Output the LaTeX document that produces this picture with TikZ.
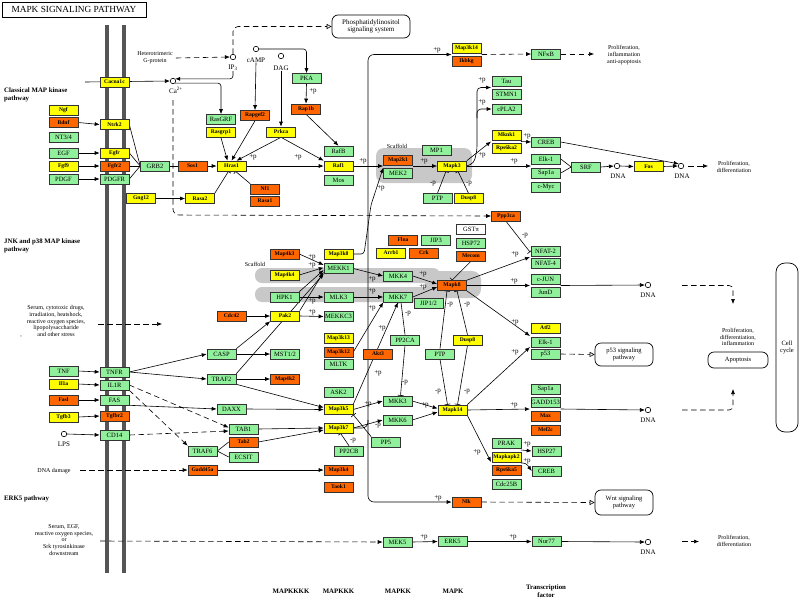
\documentclass[tikz,border=0pt]{standalone}
\usepackage{fontspec}
\setmainfont{Liberation Serif}
\usetikzlibrary{arrows.meta}
\pgfdeclarelayer{back}
\pgfdeclarelayer{bg}
\pgfsetlayers{back,bg,main}
\definecolor{kgreen}{RGB}{145,240,155}
\definecolor{korange}{RGB}{255,102,0}
\definecolor{kyellow}{RGB}{255,255,0}
\definecolor{kgray}{RGB}{200,200,200}
\definecolor{kmem}{RGB}{85,85,85}
\newcommand\plab[3]{\node[lbl] (#1) at (#2) {#3};}
\tikzset{
 box/.style={draw=black!80, line width=0.6pt, minimum width=29pt, minimum height=10pt, inner sep=0pt},
 gbox/.style={box, fill=kgreen, font=\fontsize{6.5}{6.5}\selectfont},
 ybox/.style={box, fill=kyellow, font=\fontsize{5.6}{5.6}\selectfont\bfseries},
 obox/.style={box, fill=korange, font=\fontsize{5.6}{5.6}\selectfont\bfseries},
 wbox/.style={box, fill=white, font=\fontsize{6.5}{6.5}\selectfont},
 circ/.style={circle, draw, line width=0.6pt, inner sep=0pt, minimum size=5.5pt},
 lbl/.style={font=\fontsize{7}{7}\selectfont, inner sep=0pt},
 txt/.style={font=\fontsize{6}{6.8}\selectfont, align=center, inner sep=0pt},
 btxt/.style={font=\fontsize{6.8}{7.4}\selectfont\bfseries, align=left, inner sep=0pt, anchor=north west},
 axl/.style={font=\fontsize{6.8}{7}\selectfont\bfseries, align=center, inner sep=0pt},
 rbox/.style={draw, line width=0.7pt, rounded corners=6pt, align=center, font=\fontsize{6.5}{7}\selectfont, inner sep=0pt},
 con/.style={line width=0.6pt, draw=black},
 arr/.style={con, -{Latex[length=5pt,width=4pt]}},
 inh/.style={con, -{Bar[width=6pt]}},
 darr/.style={arr, dash pattern=on 5.5pt off 3.5pt},
 dopen/.style={con, dash pattern=on 5.5pt off 3.5pt, -{Triangle[open,length=5pt,width=5pt]}},
}
\begin{document}
\begin{tikzpicture}[x=1pt,y=-1pt]
\useasboundingbox (0,0) rectangle (800,600);
\begin{pgfonlayer}{back}
\fill[white] (0,0) rectangle (800,600);
\draw[line width=3.5pt, kmem] (107,25) -- (107,573);
\draw[line width=3.5pt, kmem] (124,25) -- (124,573);
\fill[kgray, rounded corners=8pt] (376,148) rectangle (472,183);
\fill[kgray, rounded corners=7pt] (255,268) rectangle (440,283);
\fill[kgray, rounded corners=7pt] (255,287) rectangle (440,302);
\fill[kgray, rounded corners=9pt] (425,271) rectangle (481,298);
\end{pgfonlayer}

% title and text
\node[draw, line width=1pt, minimum width=144pt, minimum height=15pt, inner sep=0pt, font=\fontsize{9.3}{9.3}\selectfont] (title) at (74,9.5) {MAPK SIGNALING PATHWAY};
\node[btxt] (classic) at (4,88) {Classical MAP kinase\\pathway};
\node[btxt] (jnkp) at (4,239) {JNK and p38 MAP kinase\\pathway};
\node[btxt] (erk5p) at (4,496) {ERK5 pathway};
\node[txt] (gprot) at (155,58) {Heterotrimeric\\G-protein};
\node[txt] (stress) at (56,321) {Serum, cytotoxic drugs,\\irradiation, heatshock,\\reactive oxygen species,\\lipopolysaccharide\\and other stress};
\node[txt] (comma) at (21,337) {,};
\node[txt] (dnad) at (54,471) {DNA damage};
\node[txt] (serum2) at (64,540) {Serum, EGF,\\reactive oxygen species,\\or\\Srk tyrosinkinase\\downstream};
\node[txt] (prol1) at (624,55) {Proliferation,\\inflammation\\anti-apoptosis};
\node[txt] (prol2) at (734,167) {Proliferation,\\differentiation};
\node[txt] (prol3) at (738,337) {Proliferation,\\differentiation,\\inflammation};
\node[txt] (prol5) at (734,541) {Proliferation,\\differentiation};
\node[txt] (scaf1) at (397,146) {Scaffold};
\node[txt] (scaf2) at (255,264) {Scaffold};
\node[axl] (ax1) at (291,591) {MAPKKKK};
\node[axl] (ax2) at (338.5,591) {MAPKKK};
\node[axl] (ax3) at (398,591) {MAPKK};
\node[axl] (ax4) at (453,591) {MAPK};
\node[axl, font=\fontsize{6.8}{7.5}\selectfont\bfseries] (ax5) at (546,591) {Transcription\\factor};

% rounded boxes
\node[rbox, minimum width=78pt, minimum height=23pt, font=\fontsize{7}{7.5}\selectfont] (pis) at (371,26.5) {Phosphatidylinositol\\signaling system};
\node[rbox, minimum width=58pt, minimum height=23pt] (p53path) at (624,354.5) {p53 signaling\\pathway};
\node[rbox, minimum width=58pt, minimum height=25pt] (wnt) at (624,502.5) {Wnt signaling\\pathway};
\node[rbox, minimum width=60pt, minimum height=16pt] (apop) at (738,360) {Apoptosis};
\node[rbox, minimum width=22pt, minimum height=169pt, rounded corners=9pt] (cellc) at (787,347.5) {Cell\\cycle};

% small molecules
\node[circ] (ca) at (173,81) {};
\node[lbl] (calbl) at (176,90) {Ca\textsuperscript{2+}};
\node[circ] (ip3) at (233,57) {};
\node[lbl] (ip3lbl) at (233,68) {IP\textsubscript{3}};
\node[circ] (camp) at (256,49) {};
\node[lbl] (camplbl) at (256,60) {cAMP};
\node[circ] (dag) at (281,56) {};
\node[lbl] (daglbl) at (281,68) {DAG};
\node[circ] (dna1) at (617,166) {};
\node[lbl] (dna1l) at (618,176) {DNA};
\node[circ] (dna2) at (681,166) {};
\node[lbl] (dna2l) at (682,176) {DNA};
\node[circ] (dna3) at (648,285) {};
\node[lbl] (dna3l) at (648,295) {DNA};
\node[circ] (dna4) at (648,410) {};
\node[lbl] (dna4l) at (648,420) {DNA};
\node[circ] (dna5) at (648,542) {};
\node[lbl] (dna5l) at (648,552) {DNA};
\node[circ] (lps) at (64,434) {};
\node[lbl] (lpsl) at (64,444) {LPS};

% classical
\node[ybox] (cacna) at (114.5,82) {Cacna1c};
\node[ybox] (ngf) at (63.5,110.5) {Ngf};
\node[obox] (bdnf) at (63.5,122.5) {Bdnf};
\node[gbox] (nt34) at (63.5,137) {NT3/4};
\node[gbox] (egf) at (63.5,153) {EGF};
\node[ybox] (fgf9) at (63.5,166) {Fgf9};
\node[gbox] (pdgf) at (63.5,179) {PDGF};
\node[ybox] (ntrk) at (114.5,124.5) {Ntrk2};
\node[ybox] (egfr) at (114.5,153) {Egfr};
\node[obox] (fgfr) at (114.5,166) {Fgfr2};
\node[gbox] (pdgfr) at (114.5,179) {PDGFR};
\node[gbox] (grb2) at (155,166) {GRB2};
\node[obox] (sos) at (192.5,166) {Sos1};
\node[ybox] (hras) at (231.5,166) {Hras1};
\node[ybox] (gng) at (141,198.5) {Gng12};
\node[ybox] (rasa2) at (200,198.5) {Rasa2};
\node[obox] (nf1) at (265,189) {Nf1};
\node[obox] (rasa1) at (265,201) {Rasa1};
\node[gbox] (rasgrf) at (221,119.5) {RasGRF};
\node[ybox] (rasgrp) at (221,132.5) {Rasgrp1};
\node[obox] (rapgef) at (255,115.5) {Rapgef2};
\node[ybox] (prkca) at (281,132) {Prkca};
\node[gbox] (pka) at (306.5,78.5) {PKA};
\node[obox] (rap1b) at (306,109) {Rap1b};
\node[gbox] (rafb) at (338.5,151) {RafB};
\node[ybox] (raf1) at (338.5,166) {Raf1};
\node[gbox] (mos) at (338.5,180.5) {Mos};
\node[obox] (map2k1) at (398,160) {Map2k1};
\node[gbox] (mek2) at (398,173) {MEK2};
\node[gbox] (mp1) at (436.5,150) {MP1};
\node[ybox] (mapk3) at (452,166) {Mapk3};
\node[gbox] (ptp1) at (437.5,198.5) {PTP};
\node[ybox] (dusp1) at (468.5,198.5) {Dusp8};
\node[gbox] (tau) at (506.5,81) {Tau};
\node[gbox] (stmn) at (506.5,94) {STMN1};
\node[gbox] (cpla) at (506.5,109) {cPLA2};
\node[ybox] (mknk) at (506.5,135) {Mknk1};
\node[ybox] (rps2) at (506.5,148) {Rps6ka2};
\node[gbox] (creb1) at (546,142) {CREB};
\node[gbox] (elk1) at (546,159) {Elk-1};
\node[gbox] (sap1) at (546,173) {Sap1a};
\node[gbox] (cmyc) at (546,187) {c-Myc};
\node[gbox] (srf) at (586,167) {SRF};
\node[ybox] (fos) at (648.5,166.5) {Fos};
\node[ybox] (map3k14) at (466.5,48) {Map3k14};
\node[obox] (ikbkg) at (466.5,61.5) {Ikbkg};
\node[gbox] (nfkb) at (546,54) {NFκB};

% JNK
\node[obox] (ppp3ca) at (506,216) {Ppp3ca};
\node[obox] (map4k3) at (284.5,254) {Map4k3};
\node[ybox] (map4k4) at (284.5,275) {Map4k4};
\node[gbox] (hpk1) at (284.5,297) {HPK1};
\node[ybox] (map3k8) at (338.5,254) {Map3k8};
\node[gbox] (mekk1) at (338.5,268.5) {MEKK1};
\node[gbox] (mlk3) at (338.5,297) {MLK3};
\node[gbox] (mekkc3) at (338.5,316.5) {MEKKC3};
\node[obox] (cdc42) at (231.5,316) {Cdc42};
\node[ybox] (pak) at (285,316) {Pak2};
\node[gbox] (casp) at (221.5,354) {CASP};
\node[gbox] (mst) at (285,354) {MST1/2};
\node[gbox] (traf2) at (221.5,379) {TRAF2};
\node[obox] (map4k2) at (285,379) {Map4k2};
\node[ybox] (map3k13) at (338.5,338) {Map3k13};
\node[obox] (map3k12) at (338.5,352) {Map3k12};
\node[gbox] (mltk) at (338.5,364) {MLTK};
\node[gbox] (ask2) at (338.5,392) {ASK2};
\node[obox] (akt3) at (378,354) {Akt3};
\node[obox] (flna) at (403,240) {Flna};
\node[ybox] (arrb) at (391,253) {Arrb1};
\node[obox] (crk) at (424,253) {Crk};
\node[gbox] (jip3) at (436,240) {JIP3};
\node[wbox] (gst) at (471,229) {GSTπ};
\node[gbox] (hsp72) at (471,243) {HSP72};
\node[obox] (mecom) at (471,256) {Mecom};
\node[gbox] (mkk4) at (398,276) {MKK4};
\node[gbox] (mkk7) at (398,297) {MKK7};
\node[obox] (mapk8) at (452,285.5) {Mapk8};
\node[gbox] (jip12) at (428.5,303) {JIP1/2};
\node[gbox] (nfat2) at (545.5,251) {NFAT-2};
\node[gbox] (nfat4) at (545.5,263) {NFAT-4};
\node[gbox] (cjun) at (545.5,279) {c-JUN};
\node[gbox] (jund) at (545.5,292) {JunD};
\node[ybox] (atf2) at (545.5,328) {Atf2};
\node[gbox] (elk2) at (545.5,342) {Elk-1};
\node[gbox] (p53) at (545.5,354) {p53};
\node[gbox] (pp2ca) at (405,340) {PP2CA};
\node[gbox] (ptp2) at (440,354) {PTP};
\node[ybox] (dusp2) at (467.5,340) {Dusp8};

% p38
\node[gbox] (tnf) at (63.5,371) {TNF};
\node[ybox] (il1a) at (63.5,384) {Il1a};
\node[obox] (fasl) at (63.5,400) {Fasl};
\node[ybox] (tgfb3) at (63.5,417) {Tgfb3};
\node[gbox] (tnfr) at (114.5,372) {TNFR};
\node[gbox] (il1r) at (114.5,385) {IL1R};
\node[gbox] (fas) at (114.5,400) {FAS};
\node[obox] (tgfbr) at (114.5,416) {Tgfbr2};
\node[gbox] (cd14) at (114.5,435) {CD14};
\node[gbox] (daxx) at (231.5,409) {DAXX};
\node[gbox] (tab1) at (243.5,429) {TAB1};
\node[gbox] (traf6) at (202.5,451) {TRAF6};
\node[obox] (tab2) at (243.5,442) {Tab2};
\node[gbox] (ecsit) at (243.5,457) {ECSIT};
\node[obox] (gadd) at (202.5,470) {Gadd45a};
\node[ybox] (map3k5) at (338.5,409.5) {Map3k5};
\node[ybox] (map3k7) at (338.5,428) {Map3k7};
\node[gbox] (pp2cb) at (349,451) {PP2CB};
\node[obox] (map3k4) at (338.5,470) {Map3k4};
\node[obox] (taok1) at (338.5,487) {Taok1};
\node[gbox] (pp5) at (386,442) {PP5};
\node[gbox] (mkk3) at (397.5,401) {MKK3};
\node[gbox] (mkk6) at (397.5,420) {MKK6};
\node[ybox] (mapk14) at (452.5,410) {Mapk14};
\node[gbox] (sap2) at (545.5,389) {Sap1a};
\node[gbox] (gadd153) at (545.5,402) {GADD153};
\node[obox] (max) at (545.5,416) {Max};
\node[obox] (mef2c) at (545.5,430) {Mef2c};
\node[gbox] (prak) at (506.5,443) {PRAK};
\node[ybox] (mapkapk) at (506.5,457) {Mapkapk2};
\node[obox] (rps5) at (506.5,470) {Rps6ka5};
\node[gbox] (cdc25) at (506.5,484) {Cdc25B};
\node[gbox] (hsp27) at (546.5,451) {HSP27};
\node[gbox] (creb2) at (546.5,471) {CREB};
\node[obox] (nlk) at (466.5,502) {Nlk};
\node[gbox] (mek5) at (397.5,542) {MEK5};
\node[gbox] (erk5) at (452.5,541.5) {ERK5};
\node[gbox] (nur77) at (546.5,541.5) {Nur77};

% +p / -p labels
\plab{l1}{313,91}{+p}
\plab{l2}{253,157}{+p}
\plab{l3}{298,157}{+p}
\plab{l4}{363,161}{+p}
\plab{l5}{381,188}{+p}
\plab{l6}{424,161}{+p}
\plab{l7}{433,184}{-p}
\plab{l8}{469,184}{-p}
\plab{l9}{482,80}{+p}
\plab{l10}{482,102}{+p}
\plab{l11}{482,155}{+p}
\plab{l12}{527,136}{+p}
\plab{l13}{514,161}{+p}
\plab{l14}{437,50}{+p}
\plab{l15}{312,257}{+p}
\plab{l16}{312,265}{+p}
\plab{l17}{312,301}{+p}
\plab{l18}{312,312}{+p}
\plab{l19}{372,279}{+p}
\plab{l20}{372,291}{+p}
\plab{l21}{372,308}{+p}
\plab{l22}{382,328}{+p}
\plab{l23}{378,373}{+p}
\plab{l24}{423,274}{+p}
\plab{l25}{423,287}{+p}
\plab{l26}{525,236}{-p}
\plab{l27}{515,254}{+p}
\plab{l28}{514,281}{+p}
\plab{l29}{515,322}{+p}
\plab{l30}{515,352}{+p}
\plab{l31}{450,305}{-p}
\plab{l32}{467,305}{-p}
\plab{l33}{438,392}{-p}
\plab{l34}{467,392}{-p}
\plab{l35}{408,314}{-p}
\plab{l36}{405,383}{-p}
\plab{l37}{368,404}{+p}
\plab{l38}{378,426}{-p}
\plab{l39}{353,441}{-p}
\plab{l40}{425,405}{+p}
\plab{l41}{514,405}{+p}
\plab{l42}{477,452}{+p}
\plab{l43}{527,444}{+p}
\plab{l44}{527,461}{+p}
\plab{l45}{438,498}{+p}
\plab{l46}{424,537}{+p}
\plab{l47}{513,537}{+p}

% free ends
\coordinate (cain) at (85,82);
\coordinate (stressa) at (98,324);
\coordinate (stressb) at (162,324);
\coordinate (dnada) at (80,470);
\coordinate (s2out) at (100,541);
\coordinate (cadash) at (173,100);
\coordinate (tauin) at (491,87.5);
\coordinate (mkin) at (491,141.5);
\coordinate (mkout) at (521,141.5);
\coordinate (elkin) at (531,166);
\coordinate (dna2out) at (708,166);
\coordinate (nikin) at (451.5,54.5);
\coordinate (ikout) at (481.5,54.5);
\coordinate (nfkbout) at (594,54);
\coordinate (nfatin) at (530,257);
\coordinate (nfatbar) at (530,252);
\coordinate (cjunin) at (530,285.5);
\coordinate (jundout) at (560.5,285.5);
\coordinate (atfin) at (530,336);
\coordinate (atfin2) at (530,347);
\coordinate (sapin) at (530,409);
\coordinate (gaddout) at (560.5,409);
\coordinate (prakin) at (491,462);
\coordinate (hspout) at (521,450);
\coordinate (crebout) at (521,463);
\coordinate (dna3out) at (682,285.5);
\coordinate (prol3in) at (733,304);
\coordinate (dna4out) at (682,410);
\coordinate (apopin) at (733,389);
\coordinate (dna5out) at (682,541.5);
\coordinate (prol5in) at (699,541.5);

\begin{pgfonlayer}{bg}
% top
\draw[arr] (cain) -- (ca.west);
\draw[arr, rounded corners=3pt] (ip3lbl.south) |- (ca.north east);
\draw[arr, rounded corners=3pt] (ca.south east) -| (rasgrf.north);
\draw[darr] ([xshift=3pt]gprot.east) -- (ip3.west);
\draw[dopen, rounded corners=5pt] (ip3.north) |- (pis.west);
\draw[arr, rounded corners=3pt] (camp.east) -| (pka.north);
\draw[arr] (camplbl.south) -- (rapgef.north);
\draw[arr] (daglbl.south) -- (prkca.north);
\draw[arr] (pka.south) -- (rap1b.north);
\draw[arr] (rap1b.south) -- (rafb.north);
\draw[arr] (rasgrp.south) -- ([xshift=-4pt]hras.north);
\draw[arr] (rapgef.south) -- (hras.north);
\draw[arr] (prkca.south) -- ([xshift=5pt]hras.north);
\draw[arr] (prkca.south) -- (raf1.north west);
\draw[arr] (bdnf.east) -- (ntrk.west);
\draw[arr] (egf.east) -- (egfr.west);
\draw[arr] (fgf9.east) -- (fgfr.west);
\draw[arr] (pdgf.east) -- (pdgfr.west);
\draw[con] (ntrk.east) -- (grb2.west);
\draw[con] (egfr.east) -- (grb2.west);
\draw[con] (fgfr.east) -- (grb2.west);
\draw[con] (pdgfr.east) -- (grb2.west);
\draw[con] (grb2.east) -- (sos.west);
\draw[arr] (sos.east) -- (hras.west);
\draw[arr] (hras.east) -- (raf1.west);
\draw[inh] (nf1.north west) -- ([xshift=4pt]hras.south);
\draw[inh] (rasa2.north east) -- ([xshift=-3pt]hras.south);
\draw[arr] (gng.east) -- (rasa2.west);
\draw[darr, rounded corners=6pt] (cadash) -- (173,215) -- (ppp3ca.west);
\draw[arr] (raf1.east) -- (raf1.east -| map2k1.west);
\draw[arr, rounded corners=3pt] (map3k8.east) -- (364,254) -- (371,205) -- (mek2.north west);
\draw[arr] (map2k1.east |- mapk3.west) -- (mapk3.west);
\draw[inh] (ptp1.north) -- ([xshift=-6pt]mapk3.south);
\draw[inh] (dusp1.north) -- ([xshift=6pt]mapk3.south);
\draw[arr, rounded corners=4pt] (mapk3.east) -- (474,163) -- (477,150) -- (477,87.5) -- (tauin);
\draw[arr, rounded corners=4pt] (477,118) -- (477,109) -- (cpla.west);
\draw[arr] (mapk3.north east) -- (mkin);
\draw[arr] (mkout) -- (creb1.west);
\draw[arr] (mapk3.east) -- (elkin);
\draw[con] (elk1.east) -- (srf.west);
\draw[con] (sap1.east) -- (srf.west);
\draw[arr] (srf.east) -- (dna1.west);
\draw[arr] (dna1.east) -- (fos.west);
\draw[arr] (fos.east) -- (dna2.west);
\draw[arr] (creb1.east) -- (dna2.north west);
\draw[darr] ([xshift=4pt]dna2.east) -- (dna2out);
\draw[arr, rounded corners=6pt] (map3k7.east) -- (368,428) -- (368,54.5) -- (nikin);
\draw[arr, rounded corners=6pt] (368,420) -- (368,502) -- (nlk.west);
\draw[darr] (ikout) -- (nfkb.west);
\draw[darr] (nfkb.east) -- (nfkbout);
% JNK
\draw[darr] (stressa) -- (stressb);
\draw[arr] (map4k3.east) -- ([yshift=3.5pt]mekk1.west);
\draw[arr] (map4k4.east) -- ([yshift=1pt]mekk1.west);
\draw[arr] (hpk1.north east) -- ([yshift=-1.5pt]mekk1.west);
\draw[arr] (pak.north east) -- ([yshift=-3.5pt]mekk1.west);
\draw[arr] (traf2.north east) -- (mekk1.south west);
\draw[arr] (hpk1.east) -- (mlk3.west);
\draw[arr] (pak.east) -- (mekkc3.west);
\draw[arr] (cdc42.east) -- (pak.west);
\draw[arr] (casp.north east) -- (pak.south west);
\draw[arr] (casp.east) -- (mst.west);
\draw[arr] (traf2.east) -- (map4k2.west);
\draw[arr] (traf2.south east) -- ([yshift=2pt]map3k5.west);
\draw[arr] (tnfr.east) -- (casp.west);
\draw[arr] (tnfr.east) -- (traf2.west);
\draw[arr] (mekk1.east) -- (mkk4.west);
\draw[arr] (mlk3.east) -- (mkk7.west);
\draw[arr] (map3k12.east) -- (mkk7.south west);
\draw[arr] (map3k5.north east) -- (mkk7.south);
\draw[arr] (mkk4.east) -- ([yshift=1.5pt]mapk8.west);
\draw[arr] (mkk7.east) -- ([yshift=-1.5pt]mapk8.west);
\draw[inh] (mecom.south) -- (mapk8.north);
\draw[inh] (ppp3ca.south) -- (nfatbar);
\draw[arr] (mapk8.north east) -- (nfatin);
\draw[arr] (mapk8.east) -- (cjunin);
\draw[arr] (jundout) -- (dna3.west);
\draw[darr, rounded corners=4pt] (dna3out) -- (733,285.5) -- (prol3in);
\draw[arr] (mapk8.south east) -- (atfin);
\draw[arr] (mapk14.north east) -- (atfin2);
\draw[dopen] (p53.east) -- (p53path.west);
\draw[inh] (ptp2.north) -- ([xshift=-5pt]mapk8.south);
\draw[inh] (dusp2.north) -- ([xshift=5pt]mapk8.south);
\draw[inh] (ptp2.south) -- ([xshift=-5pt]mapk14.north);
\draw[inh] (dusp2.south) -- ([xshift=5pt]mapk14.north);
\draw[inh] (pp2ca.north) -- ([xshift=3pt]mkk7.south);
\draw[inh] (pp2ca.south) -- ([xshift=3pt]mkk3.north);
% p38
\draw[arr] (tnf.east) -- (tnfr.west);
\draw[arr] (il1a.east) -- (il1r.west);
\draw[arr] (fasl.east) -- (fas.west);
\draw[arr] (tgfb3.east) -- (tgfbr.west);
\draw[arr] (lps.east) -- (cd14.west);
\draw[darr] (il1r.south east) -- (traf6.north west);
\draw[darr] (il1r.east) -- ([yshift=1.5pt]tab1.west);
\draw[darr] (cd14.east) -- ([yshift=-2pt]tab1.west);
\draw[arr] (fas.south east) -- (daxx.west);
\draw[arr] (daxx.east) -- (map3k5.west);
\draw[arr] (tab1.east) -- (map3k7.west);
\draw[arr] (tab2.east) -- ([yshift=-2pt]map3k7.west);
\draw[con] (traf6.east) -- (tab2.west);
\draw[con] (traf6.east) -- (ecsit.west);
\draw[darr] (dnada) -- (gadd.west);
\draw[arr] (gadd.east) -- (map3k4.west);
\draw[arr] (map3k5.east) -- (mkk3.west);
\draw[arr] (map3k7.east) -- (mkk6.west);
\draw[inh] (pp5.north west) -- (map3k5.south east);
\draw[inh] (pp2cb.north) -- ([xshift=2pt]map3k7.south);
\draw[arr] (mkk3.east) -- ([yshift=1.5pt]mapk14.west);
\draw[arr] (mkk6.east) -- ([yshift=-2pt]mapk14.west);
\draw[arr] (mapk14.east) -- (sapin);
\draw[arr] (gaddout) -- (dna4.west);
\draw[darr, rounded corners=4pt] (dna4out) -- (733,410) -- (apopin);
\draw[arr] (mapk14.south east) -- (prakin);
\draw[arr] (hspout) -- (hsp27.west);
\draw[arr, rounded corners=3pt] (crebout) -- (526,463) -- (creb2.west);
\draw[dopen] (nlk.east) -- (wnt.west);
% ERK5
\draw[darr] (s2out) -- (mek5.west);
\draw[arr] (mek5.east) -- (erk5.west);
\draw[arr] (erk5.east) -- (nur77.west);
\draw[arr] (nur77.east) -- (dna5.west);
\draw[darr] (dna5out) -- (prol5in);
\end{pgfonlayer}
\end{tikzpicture}
\end{document}
